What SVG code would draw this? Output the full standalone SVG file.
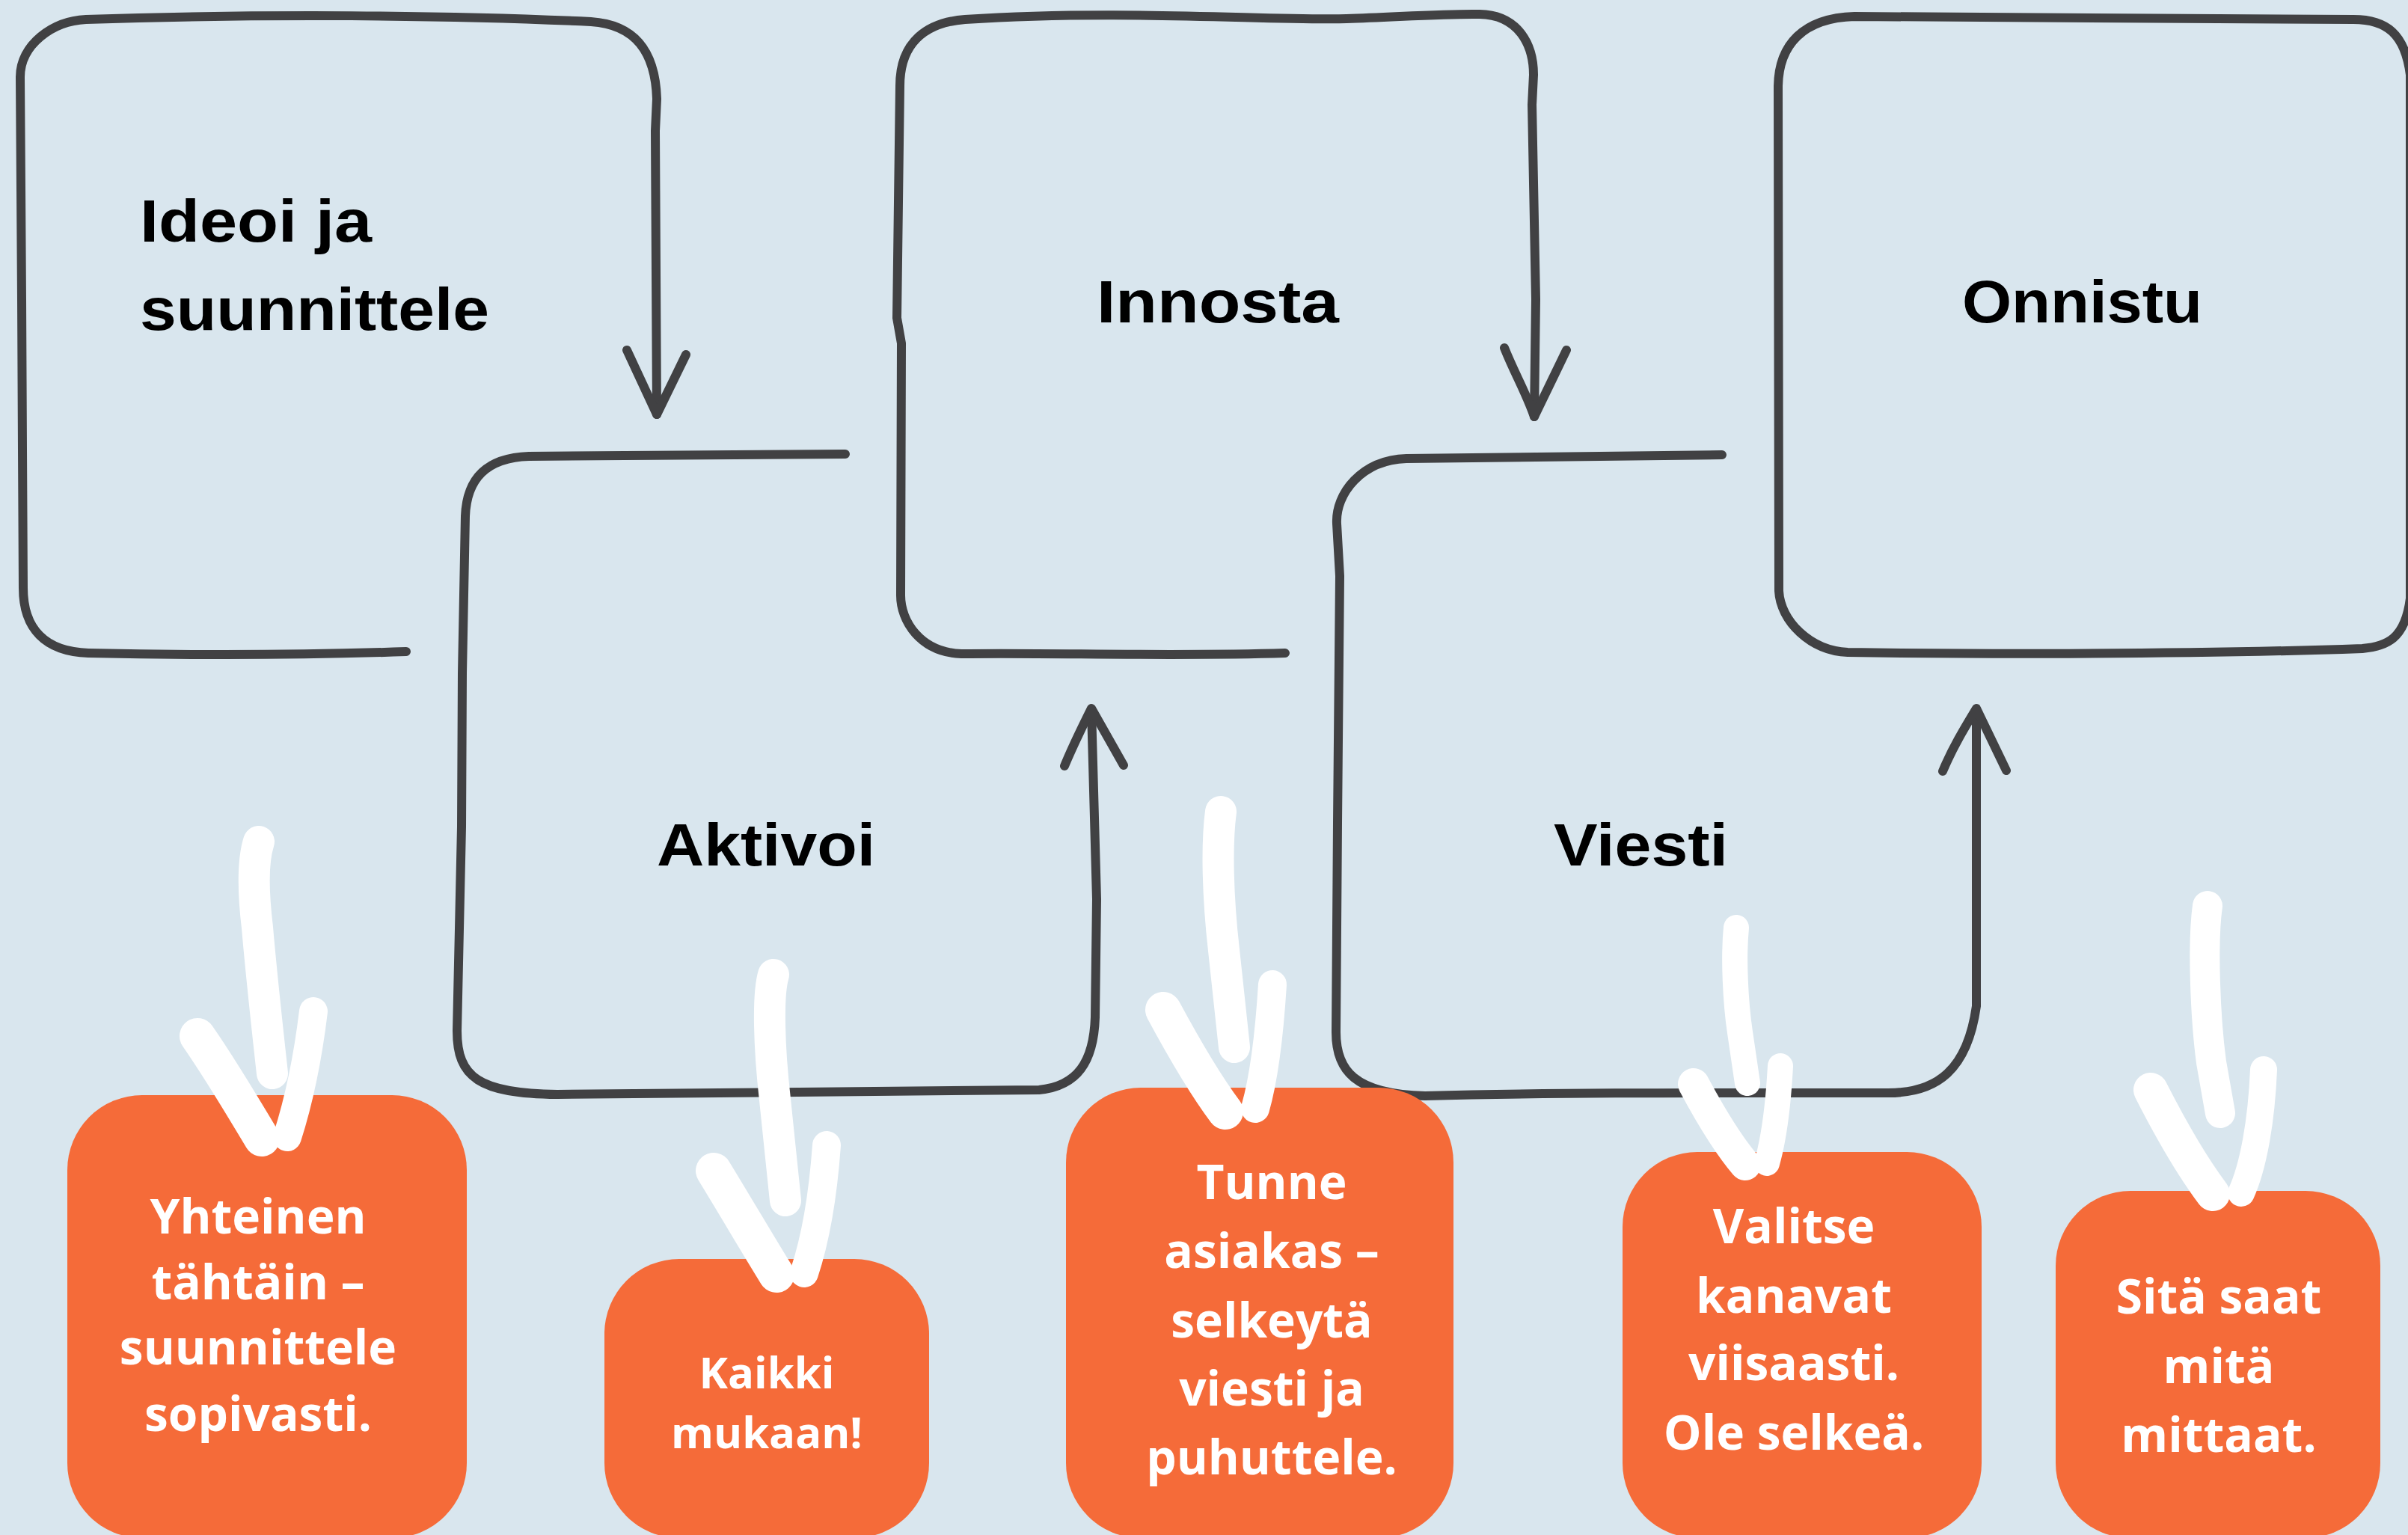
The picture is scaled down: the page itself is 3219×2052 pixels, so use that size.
<svg xmlns="http://www.w3.org/2000/svg" width="3219" height="2052" viewBox="0 0 3219 2052">
<style>
.bg{fill:#d9e6ee}
.ln{fill:none;stroke:#414143;stroke-width:12;stroke-linecap:round;stroke-linejoin:round}
.hd{font-family:"Liberation Sans",Arial,sans-serif;font-weight:700;font-size:80px;fill:#000}
.card{fill:#f56b39}
.ct{font-family:"Open Sans","Noto Sans",sans-serif;font-weight:700;font-size:64px;fill:#fff;text-anchor:middle}
.wa{fill:none;stroke:#fff;stroke-linecap:round;stroke-linejoin:round}
</style>
<rect class="bg" x="0" y="0" width="3219" height="2052"/>

<g id="node-ideoi">
<path class="ln" d="M 543 871 C 400 876, 250 876, 118 873 C 60 871, 31 840, 31 786 L 30 600 L 29 400 L 27 103 C 27 60, 70 28, 115 26 C 350 18, 600 20, 790 29 C 850 33, 876 70, 878 132 L 876 175 L 878 554"/>
<text class="hd" x="187" y="323" textLength="310" lengthAdjust="spacingAndGlyphs">Ideoi ja</text>
<text class="hd" x="187" y="441" textLength="467" lengthAdjust="spacingAndGlyphs">suunnittele</text>
</g>

<g id="node-aktivoi">
<path class="ln" d="M 1130 607 L 707 610 C 650 612, 624 640, 622 690 L 618 900 L 617 1105 L 611 1378 C 611 1440, 640 1462, 745 1463 L 1389 1457 C 1440 1452, 1462 1420, 1464 1360 L 1466 1202 L 1459 948"/>
<text class="hd" x="878" y="1157" textLength="292" lengthAdjust="spacingAndGlyphs">Aktivoi</text>
</g>

<g id="node-innosta">
<path class="ln" d="M 1718 873 C 1560 878, 1400 872, 1285 874 C 1230 872, 1204 830, 1204 796 L 1205 459 L 1199 425 L 1203 115 C 1203 55, 1240 30, 1290 26 C 1500 12, 1700 28, 1800 25 C 1880 22, 1940 18, 1978 19 C 2030 20, 2050 60, 2050 100 L 2048 140 L 2053 400 L 2051 557"/>
<text class="hd" x="1466" y="431" textLength="324" lengthAdjust="spacingAndGlyphs">Innosta</text>
</g>

<g id="node-viesti">
<path class="ln" d="M 2302 608 L 1880 613 C 1820 615, 1785 660, 1787 700 L 1791 770 L 1788 1100 L 1786 1380 C 1786 1430, 1810 1463, 1905 1465 C 2100 1460, 2300 1461, 2524 1461 C 2590 1461, 2630 1430, 2642 1345 L 2642 948"/>
<text class="hd" x="2077" y="1157" textLength="233" lengthAdjust="spacingAndGlyphs">Viesti</text>
</g>

<g id="node-onnistu">
<path class="ln" d="M 2479 22 L 3146 26 C 3190 26, 3215 45, 3222 100 L 3222 800 C 3215 855, 3190 864, 3158 867 C 2900 876, 2600 874, 2470 872 C 2420 870, 2380 830, 2378 790 L 2377 115 C 2378 60, 2410 24, 2479 22 Z"/>
<text class="hd" x="2623" y="431" textLength="321" lengthAdjust="spacingAndGlyphs">Onnistu</text>
</g>

<g id="connectors">
<path class="ln" d="M 838 468 L 878 554 L 917 474"/>
<path class="ln" d="M 1423 1024 C 1435 995, 1445 975, 1459 947 L 1502 1023"/>
<path class="ln" d="M 2011 465 C 2025 500, 2040 525, 2051 557 L 2094 468"/>
<path class="ln" d="M 2597 1031 C 2610 1000, 2625 975, 2642 947 L 2682 1030"/>
</g>

<g id="card-1">
<rect class="card" x="90" y="1464" width="534" height="592" rx="100"/>
<text class="ct"><tspan x="345" y="1649">Yhteinen</tspan><tspan x="345" y="1737">tähtäin –</tspan><tspan x="345" y="1824">suunnittele</tspan><tspan x="345" y="1913">sopivasti.</tspan></text>
</g>
<g id="card-2">
<rect class="card" x="808" y="1683" width="434" height="373" rx="100"/>
<text class="ct" style="font-size:58px"><tspan x="1025" y="1856">Kaikki</tspan><tspan x="1025" y="1936">mukaan!</tspan></text>
</g>
<g id="card-3">
<rect class="card" x="1425" y="1454" width="518" height="602" rx="100"/>
<text class="ct"><tspan x="1700" y="1603">Tunne</tspan><tspan x="1700" y="1695">asiakas –</tspan><tspan x="1700" y="1788">selkeytä</tspan><tspan x="1700" y="1879">viesti ja</tspan><tspan x="1700" y="1971">puhuttele.</tspan></text>
</g>
<g id="card-4">
<rect class="card" x="2169" y="1540" width="480" height="516" rx="100"/>
<text class="ct"><tspan x="2398" y="1662">Valitse</tspan><tspan x="2398" y="1755">kanavat</tspan><tspan x="2398" y="1845">viisaasti.</tspan><tspan x="2398" y="1938">Ole selkeä.</tspan></text>
</g>
<g id="card-5">
<rect class="card" x="2748" y="1592" width="434" height="464" rx="100"/>
<text class="ct"><tspan x="2966" y="1756">Sitä saat</tspan><tspan x="2966" y="1849">mitä</tspan><tspan x="2966" y="1941">mittaat.</tspan></text>
</g>

<g id="white-arrows">
<g id="arrow-1">
<path class="wa" stroke-width="42" d="M 346 1125 C 338 1150, 338 1190, 344 1240 C 350 1310, 358 1380, 364 1435"/>
<path class="wa" stroke-width="48" d="M 264 1385 C 294 1428, 322 1475, 350 1522"/>
<path class="wa" stroke-width="38" d="M 419 1352 C 412 1410, 400 1470, 384 1520"/>
</g>
<g id="arrow-2">
<path class="wa" stroke-width="42" d="M 1034 1303 C 1026 1330, 1028 1400, 1036 1470 L 1050 1605"/>
<path class="wa" stroke-width="48" d="M 954 1565 C 984 1614, 1012 1662, 1038 1704"/>
<path class="wa" stroke-width="38" d="M 1105 1531 C 1100 1600, 1089 1660, 1075 1702"/>
</g>
<g id="arrow-3">
<path class="wa" stroke-width="42" d="M 1632 1085 C 1626 1130, 1628 1200, 1636 1270 L 1650 1400"/>
<path class="wa" stroke-width="48" d="M 1555 1350 C 1583 1402, 1611 1450, 1638 1486"/>
<path class="wa" stroke-width="38" d="M 1701 1316 C 1697 1380, 1690 1440, 1678 1482"/>
</g>
<g id="arrow-4">
<path class="wa" stroke-width="34" d="M 2321 1240 C 2317 1280, 2320 1340, 2326 1380 L 2336 1448"/>
<path class="wa" stroke-width="42" d="M 2264 1449 C 2287 1492, 2310 1530, 2333 1557"/>
<path class="wa" stroke-width="34" d="M 2380 1425 C 2377 1480, 2372 1520, 2362 1555"/>
</g>
<g id="arrow-5">
<path class="wa" stroke-width="40" d="M 2951 1211 C 2944 1260, 2948 1360, 2956 1420 L 2968 1488"/>
<path class="wa" stroke-width="46" d="M 2875 1457 C 2903 1512, 2931 1560, 2958 1596"/>
<path class="wa" stroke-width="36" d="M 3026 1430 C 3023 1500, 3012 1560, 2996 1595"/>
</g>
</g>
</svg>
